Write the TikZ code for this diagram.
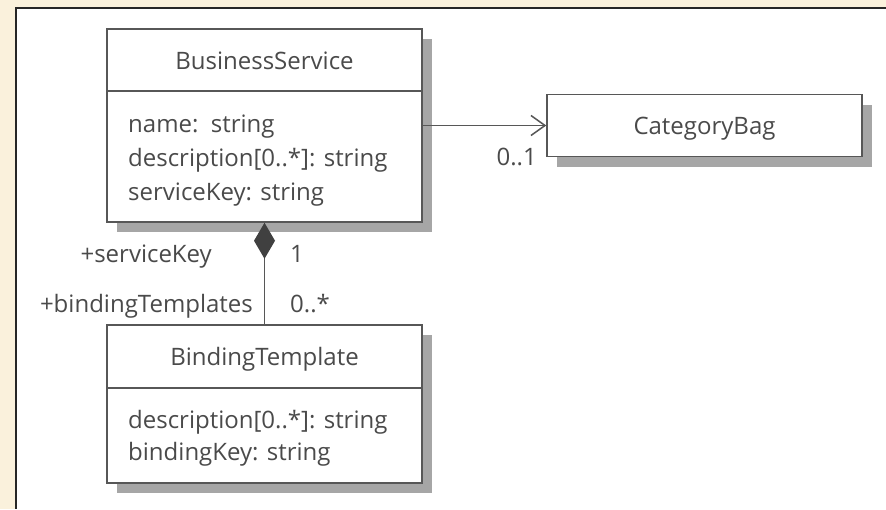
\documentclass[tikz,border=0pt]{standalone}
\usepackage{fontspec}
\setmainfont{Open Sans}
\usetikzlibrary{arrows.meta,shadows}
\definecolor{cream}{HTML}{FAF1DC}
\definecolor{ink}{HTML}{4A4A4A}
\definecolor{boxline}{HTML}{575757}
\definecolor{shade}{HTML}{A6A6A6}
\tikzset{
	umlclass/.style={draw=boxline, line width=1.5pt, fill=white, minimum width=315pt,
		drop shadow={shadow xshift=10pt, shadow yshift=-10pt, fill=shade, opacity=1}},
	txt/.style={text=ink, font=\fontsize{24}{28}\selectfont, inner sep=0pt},
	conn/.style={draw=boxline, line width=1.5pt}
}

\begin{document}
\begin{tikzpicture}[x=1pt,y=-1pt]
		\useasboundingbox (0,0) rectangle (886,509);
		\fill[cream] (0,0) rectangle (886,509);
		\fill[white] (16,8) rectangle (886,509);
		\draw[line width=2pt, color=black!85] (886,8)--(16,8)--(16,509);
		% classes
		\node[umlclass, minimum height=193pt] (bs) at (264.5,125.5) {};
		\node[umlclass, minimum height=62pt] (cb) at (704.5,125.5) {};
		\node[umlclass, minimum height=158pt] (bt) at (264.5,404) {};
		\draw[conn] (bs.west |- 0,91)--(bs.east |- 0,91);
		\draw[conn] (bt.west |- 0,388)--(bt.east |- 0,388);
		\node[txt, anchor=base] (bsname) at (264.5,69) {BusinessService};
		\node[txt, anchor=base] (cbname) at (704.5,134) {CategoryBag};
		\node[txt, anchor=base] (btname) at (264.5,365) {BindingTemplate};
		\foreach \t [count=\i] in {name:\ \ string, description[0..*]: string, serviceKey: string}
		\node[txt, anchor=base west] (bsattr\i) at (128,98+34*\i) {\t};
		\foreach \t [count=\i] in {description[0..*]: string, bindingKey: string}
		\node[txt, anchor=base west] (btattr\i) at (128,396+32*\i) {\t};
		% associations
		\draw[conn, -{Straight Barb[length=14pt, width=20pt, line width=1.5pt]}] (bs.east)--(cb.west);
		\draw[conn, -{Diamond[length=36pt, width=21pt, fill=black!75, color=black!75]}] (bt.north)--(bs.south);
		\node[txt, anchor=base east] (cbmult) at (537,165) {0..1};
		\node[txt, anchor=base east] (bsrole) at (212,262) {+serviceKey};
		\node[txt, anchor=base west] (bsmult) at (290,262) {1};
		\node[txt, anchor=base east] (btrole) at (253,312) {+bindingTemplates};
		\node[txt, anchor=base west] (btmult) at (290,312) {0..*};
	\end{tikzpicture}
\end{document}
